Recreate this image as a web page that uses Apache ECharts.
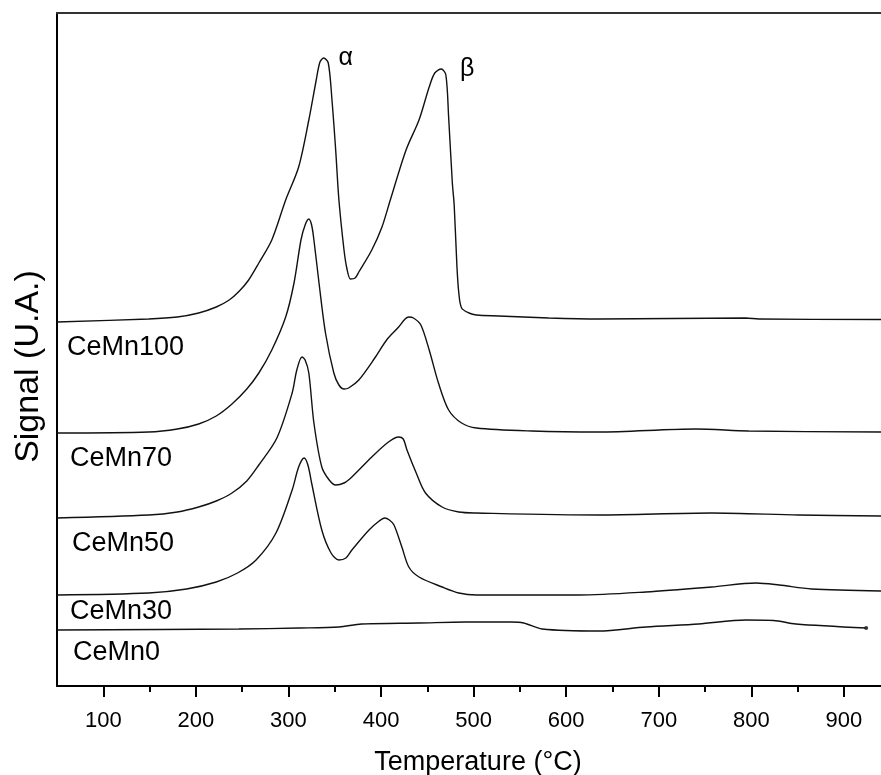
<!DOCTYPE html>
<html><head><meta charset="utf-8">
<script src="https://cdn.jsdelivr.net/npm/echarts@6/dist/echarts.min.js"></script>
<style>html,body{margin:0;padding:0;background:#fff}#c{width:881px;height:775px}</style>
</head><body><div id="c"></div>
<script>
// ---- data (temperature °C, signal in arbitrary units) ----
const seriesNames = ['CeMn100', 'CeMn70', 'CeMn50', 'CeMn30', 'CeMn0'];
const cemn100 = [[50,36.4],[149,36.7],[180,36.9],[203,37.3],[222,37.9],[236,38.6],[247,39.5],[257,40.6],[268,42.3],[282,44.6],[297,48.6],[311,51.9],[322,56.6],[330,60.6],[334,62.4],[338,62.8],[343,62.3],[347,58.6],[351,53.6],[354.5,48.6],[360,43.6],[363,41.8],[367,40.7],[372,40.8],[376,41.4],[390,43.6],[401,45.9],[410,48.6],[427,53.6],[441,56.6],[452,59.9],[458,61.3],[465,61.7],[470,61.1],[473,56.9],[477,50.3],[479,48.1],[482,41.9],[484,39.3],[487,37.8],[495,37.3],[503,37.1],[527,37.0],[581,36.8],[635,36.7],[794,36.8],[808,36.7],[940,36.65]];
const cemn70 = [[50,25.3],[149,25.4],[180,25.7],[203,26.2],[222,27.0],[239,28.2],[255,29.7],[268,31.3],[282,33.6],[297,36.9],[306,40.3],[313.5,44.6],[318,46.1],[322,46.7],[325,46.1],[327.5,44.6],[333,40.3],[340,35.3],[349,31.3],[354.5,30.1],[360,29.7],[365,29.8],[376,30.6],[394,32.9],[406,34.6],[419,35.9],[426,36.7],[430,36.9],[435,36.8],[443,36.1],[452,33.6],[462,30.3],[473,27.6],[487,26.3],[503,25.8],[563,25.5],[635,25.4],[740,25.7],[797,25.5],[940,25.4]];
const cemn50 = [[50,16.8],[149,17.1],[180,17.4],[203,17.9],[222,18.5],[239,19.3],[255,20.5],[268,22.1],[287.5,24.8],[304,29.3],[309,31.6],[314.6,32.9],[318,32.6],[322,31.3],[327.5,26.3],[336,21.9],[344,20.6],[351,20.1],[360,20.3],[368.5,20.9],[390,22.9],[408,24.4],[419,24.9],[424,24.7],[428,23.6],[438,21.3],[448,19.3],[466,17.9],[484,17.4],[503,17.3],[635,17.1],[757,17.3],[851,17.1],[940,17.0]];
const cemn30 = [[50,9.1],[149,9.3],[190,9.7],[222,10.4],[245,11.3],[265,12.6],[286.5,15.3],[304,19.6],[311,21.9],[317,22.8],[321,22.1],[325,20.3],[336,15.6],[346,13.3],[354.5,12.6],[362,12.8],[368.5,13.6],[387,15.6],[398,16.5],[404,16.8],[409,16.6],[414,16.1],[422.5,13.9],[430,11.9],[441,10.9],[466,9.9],[484,9.3],[503,9.1],[613.5,9.1],[686,9.4],[757,9.9],[805,10.3],[830,10.1],[865,9.7],[940,9.5]];
const cemn0 = [[50,5.6],[246.5,5.7],[311,5.8],[354.5,5.9],[379,6.2],[441,6.3],[491,6.4],[541,6.4],[554,6.3],[574,5.7],[635,5.5],[686,5.9],[743,6.2],[794,6.6],[824,6.55],[848,6.2],[924,5.8]];
const majorTicks = [100, 200, 300, 400, 500, 600, 700, 800, 900];
const minorTicks = [150, 250, 350, 450, 550, 650, 750, 850];
const peakNames = ['α', 'β'];
const xTitle = 'Temperature (°C)';
const yTitle = 'Signal (U.A.)';

// ---- chart ----
const FONT = '"Liberation Sans", Arial, Helvetica, sans-serif';
const allSeries = [cemn100, cemn70, cemn50, cemn30, cemn0];
const chart = echarts.init(document.getElementById('c'), null, {renderer: 'canvas'});
const X_MIN = 50, X_MAX = 940;

const option = {
  animation: false,
  backgroundColor: '#fff',
  grid: {left: 57, right: 0, top: 13, bottom: 89, containLabel: false, outerBoundsMode: 'none'},
  xAxis: [
    {
      type: 'value', min: X_MIN, max: X_MAX, position: 'bottom',
      axisLine: {show: true, onZero: false, lineStyle: {color: '#000', width: 2}},
      axisTick: {show: true, customValues: majorTicks, length: 11, inside: false, lineStyle: {color: '#000', width: 2}},
      axisLabel: {show: true, customValues: majorTicks, fontSize: 22, color: '#000', margin: 24, fontFamily: FONT},
      splitLine: {show: false},
      name: xTitle, nameLocation: 'middle', nameGap: 63,
      nameTextStyle: {fontSize: 27, color: '#000', fontFamily: FONT, padding: [0, 0, 0, 18]}
    },
    {
      type: 'value', min: X_MIN, max: X_MAX, position: 'bottom',
      axisLine: {show: false, onZero: false},
      axisTick: {show: true, customValues: minorTicks, length: 6, lineStyle: {color: '#000', width: 2}},
      axisLabel: {show: false}, splitLine: {show: false}
    },
    {
      type: 'value', min: X_MIN, max: X_MAX, position: 'top',
      axisLine: {show: true, onZero: false, lineStyle: {color: '#333', width: 2}},
      axisTick: {show: false}, axisLabel: {show: false}, splitLine: {show: false}
    }
  ],
  yAxis: {
    type: 'value', min: 0, max: 67.3,
    axisLine: {show: true, onZero: false, lineStyle: {color: '#000', width: 2}},
    axisTick: {show: false}, axisLabel: {show: false}, splitLine: {show: false},
    name: yTitle, nameLocation: 'middle', nameGap: 11,
    nameTextStyle: {fontSize: 34, color: '#000', fontFamily: FONT, padding: [0, 34, 0, 0]}
  },
  series: allSeries.map((d, i) => ({
    name: seriesNames[i], type: 'line', data: d, xAxisIndex: 0, yAxisIndex: 0,
    showSymbol: false, smooth: 0.3, silent: true,
    lineStyle: {color: '#111', width: 1.4}
  })).concat([{
    name: 'CeMn0 end', type: 'scatter', data: [cemn0[cemn0.length - 1]],
    symbol: 'circle', symbolSize: 4, itemStyle: {color: '#111'}, silent: true
  }])
};
chart.setOption(option);

// ---- annotations ----
const labelDy = [26, 26, 26, 17, 23];
const labelDx = [10, 13, 15, 13, 16];
const graphics = [];
allSeries.forEach((d, i) => {
  const p = chart.convertToPixel({xAxisIndex: 0, yAxisIndex: 0}, d[0]);
  graphics.push({
    type: 'text', x: p[0] + labelDx[i], y: p[1] + labelDy[i],
    style: {text: seriesNames[i], fontSize: 27, fontFamily: FONT, fill: '#000', align: 'left', verticalAlign: 'middle'}
  });
});
// peak labels next to the two maxima of CeMn100
function maxIn(d, lo, hi) {
  let best = null;
  d.forEach(pt => { if (pt[0] >= lo && pt[0] <= hi && (!best || pt[1] > best[1])) best = pt; });
  return best;
}
const peaks = [maxIn(cemn100, 250, 400), maxIn(cemn100, 400, 520)];
const peakDx = [22, 26], peakDy = [0, 0];
peaks.forEach((pt, i) => {
  const p = chart.convertToPixel({xAxisIndex: 0, yAxisIndex: 0}, pt);
  graphics.push({
    type: 'text', x: p[0] + peakDx[i], y: p[1] + peakDy[i],
    style: {text: peakNames[i], fontSize: 25, fontFamily: FONT, fill: '#000', align: 'center', verticalAlign: 'middle'}
  });
});
chart.setOption({graphic: graphics});
</script>
</body></html>
